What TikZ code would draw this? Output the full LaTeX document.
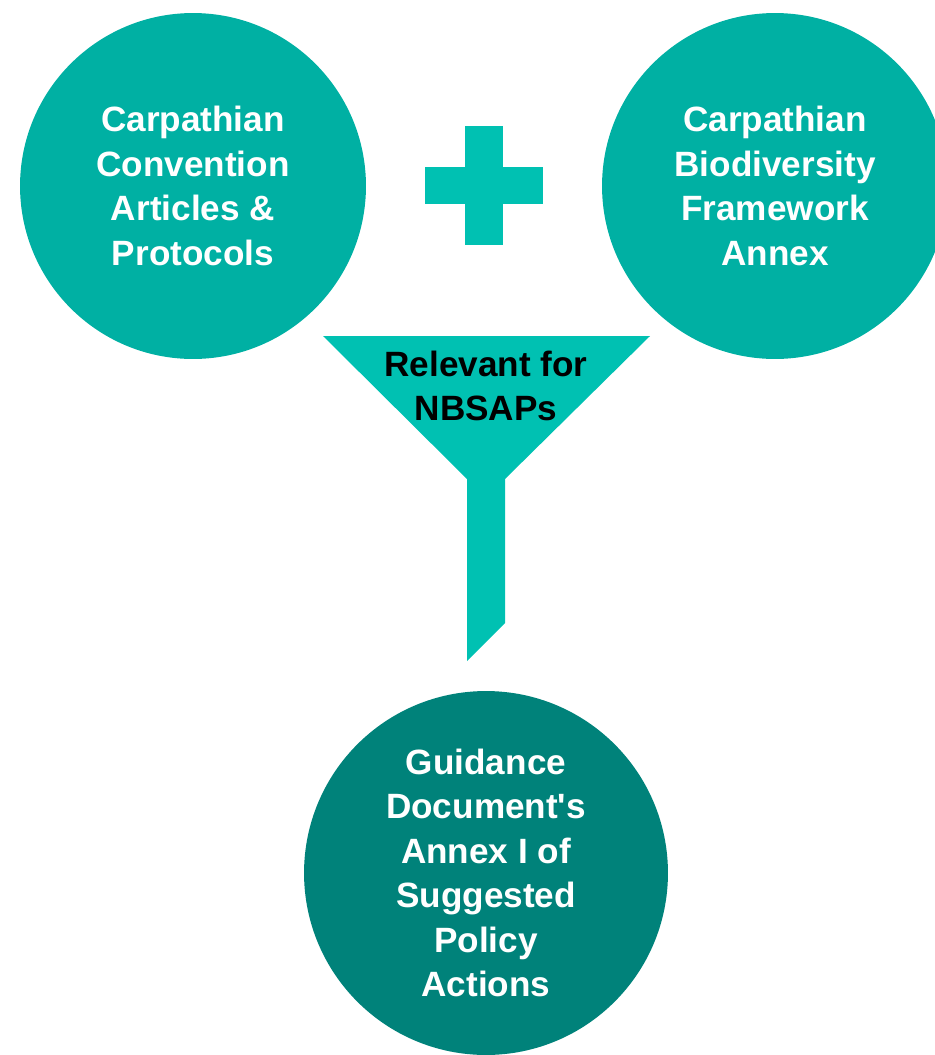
\documentclass[tikz,border=0pt]{standalone}
\usepackage{fontspec}
\setmainfont{Liberation Sans}
\definecolor{circteal}{HTML}{00B0A3}
\definecolor{funteal}{HTML}{00C1B2}
\definecolor{darkteal}{HTML}{00827A}
\tikzset{
  bigcirc/.style={circle, fill=circteal, minimum size=6.92cm, inner sep=0pt,
    text=white, align=center, font=\bfseries\fontsize{20}{25.3}\selectfont},
}
\begin{document}
\begin{tikzpicture}[x=0.02cm, y=-0.02cm]
        \useasboundingbox (0,0) rectangle (935,1055);
        \clip (0,0) rectangle (935,1055);

        % the two source documents
        \node[bigcirc] (convention) at (193,186) {Carpathian\\Convention\\Articles \&\\Protocols};
        \node[bigcirc] (framework) at (775,186) {Carpathian\\Biodiversity\\Framework\\Annex};

        % plus sign
        \fill[funteal] (465,126) rectangle (503,245);
        \fill[funteal] (425,167) rectangle (543,204);

        % funnel
        \fill[funteal] (323,336) -- (650,336) -- (505,479) -- (505,623)
              -- (467,661) -- (467,479) -- cycle;
        \node[align=center, font=\bfseries\fontsize{20}{25.3}\selectfont] (relevant) at (486,386) {Relevant for\\NBSAPs};

        % result
        \node[bigcirc, fill=darkteal, minimum size=7.28cm] (guidance) at (486,873)
              {Guidance\\Document\textquotesingle s\\Annex I of\\Suggested\\Policy\\Actions};
      \end{tikzpicture}
\end{document}
